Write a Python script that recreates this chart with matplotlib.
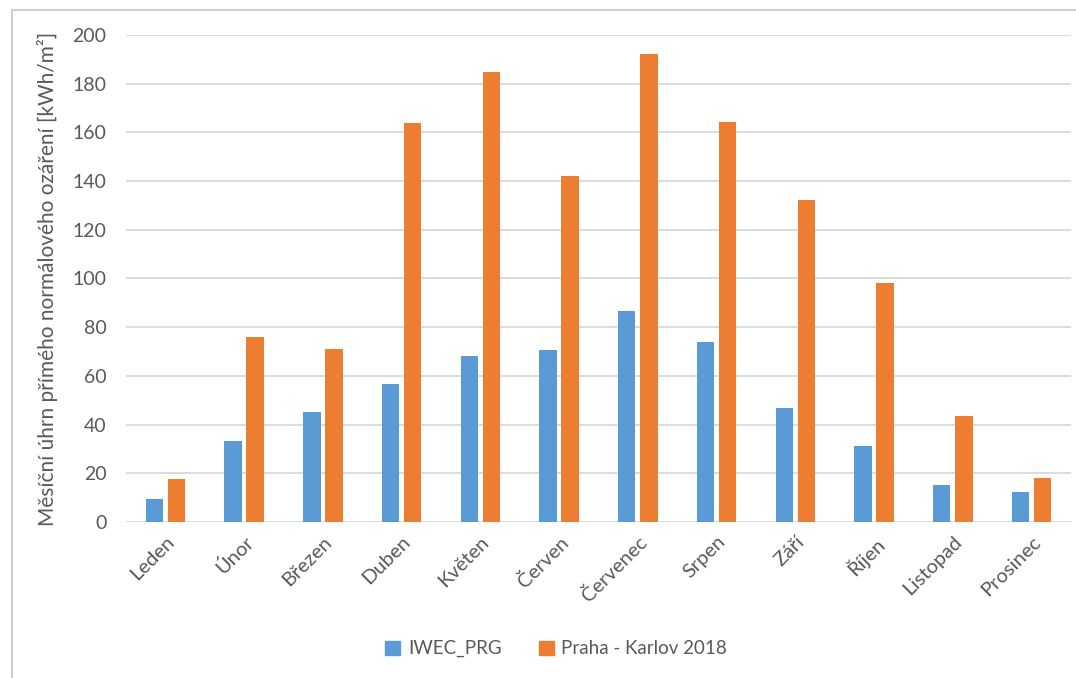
import matplotlib
matplotlib.use("Agg")
import matplotlib.pyplot as plt
import numpy as np
from matplotlib.lines import Line2D

months = ["Leden", "Únor", "Březen", "Duben", "Květen", "Červen", "Červenec",
          "Srpen", "Září", "Říjen", "Listopad", "Prosinec"]
iwec_prg = [9.3, 33.3, 45.0, 56.7, 68.2, 70.6, 86.6, 74.0, 46.7, 31.3, 15.1, 12.2]
praha_karlov_2018 = [17.7, 76.1, 70.9, 163.9, 184.8, 142.1, 192.2, 164.4, 132.2, 98.0, 43.7, 18.2]
series_names = ["IWEC_PRG", "Praha - Karlov 2018"]
yticks = [0, 20, 40, 60, 80, 100, 120, 140, 160, 180, 200]

plt.rcParams['font.family'] = ['Lato', 'DejaVu Sans']
text_color = "#595959"
blue = "#5B9BD5"
orange = "#ED7D31"
grid_color = "#D9D9D9"

fig = plt.figure(figsize=(10.76, 6.78), dpi=100)
ax = fig.add_axes([0.1171, 0.2301, 0.8782, 0.7183])

x = np.arange(len(months))
w = 0.22
off = 0.14
ax.bar(x - off, iwec_prg, width=w, color=blue, label=series_names[0], zorder=3)
ax.bar(x + off, praha_karlov_2018, width=w, color=orange, label=series_names[1], zorder=3)

ax.set_xlim(-0.5, len(months) - 0.5)
ax.set_ylim(0, 200)
ax.set_yticks(yticks)
ax.set_yticklabels([str(v) for v in yticks], fontsize=14, color=text_color)
ax.set_xticks(x)
ax.set_xticklabels(months, rotation=45, ha='right', va='top', rotation_mode='anchor',
                   fontsize=14.5, color=text_color)
ax.tick_params(axis='both', length=0)
ax.tick_params(axis='y', pad=14)
ax.tick_params(axis='x', pad=8)
ax.yaxis.grid(True, color=grid_color, linewidth=1.3, zorder=0)
ax.set_axisbelow(True)
for s in ax.spines.values():
    s.set_visible(False)

ax.set_ylabel("Měsíční úhrn přímého normálového ozáření [kWh/m²]", fontsize=15,
              color=text_color)
ax.yaxis.set_label_coords(-0.072, 0.5)

handles = [plt.Rectangle((0, 0), 1, 1, color=blue), plt.Rectangle((0, 0), 1, 1, color=orange)]
fig.legend(handles, series_names, loc='center', bbox_to_anchor=(0.517, 0.043),
           ncol=2, frameon=False, fontsize=13.5, labelcolor=text_color,
           handlelength=0.8, handleheight=0.8, handletextpad=0.4, columnspacing=2.0)

# outer frame of the screenshot
fig.add_artist(Line2D([0.011, 1.0], [0.985, 0.985], color="#D0D0D0", linewidth=1.5,
                      transform=fig.transFigure))
fig.add_artist(Line2D([0.011, 0.011], [0.0, 0.985], color="#D0D0D0", linewidth=1.5,
                      transform=fig.transFigure))

fig.savefig("out.png", dpi=100, facecolor="white")
